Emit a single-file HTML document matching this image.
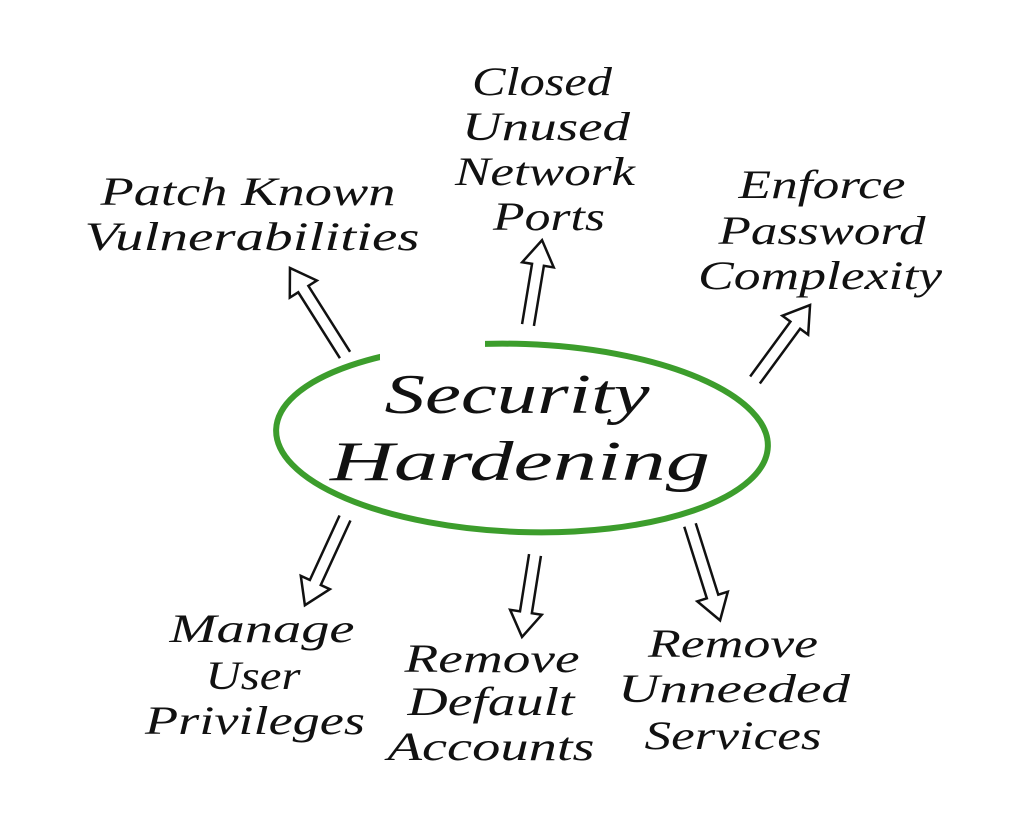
<!DOCTYPE html>
<html><head><meta charset="utf-8"><style>
html,body{margin:0;padding:0;background:#fff;}
svg{display:block;}
text{font-family:"Liberation Serif",serif;font-style:italic;fill:#111;text-anchor:middle;}
.t{font-size:40px;}
.c{font-size:56px;}
</style></head><body>
<svg width="1023" height="836" viewBox="0 0 1023 836">
<ellipse cx="522" cy="438" rx="246" ry="94" fill="none" stroke="#3c9d2c" stroke-width="6" transform="rotate(2 522 438)"/>
<rect x="380" y="330" width="105" height="30" fill="#fff"/>
<g fill="#fff" stroke="#111" stroke-width="2.5" stroke-linejoin="miter">
<path transform="translate(345,355) rotate(-122.3)" d="M0,-6 L78,-6 L78,-16 L103,0 L78,16 L78,6 L0,6"/>
<path transform="translate(528,325) rotate(-80.6)" d="M0,-6 L61,-6 L61,-16 L86,0 L61,16 L61,6 L0,6"/>
<path transform="translate(755,380) rotate(-53.7)" d="M0,-6 L68,-6 L68,-16 L93,0 L68,16 L68,6 L0,6"/>
<path transform="translate(345,518) rotate(114.7)" d="M0,-6 L71,-6 L71,-16 L96,0 L71,16 L71,6 L0,6"/>
<path transform="translate(535,555) rotate(99)" d="M0,-6 L58,-6 L58,-16 L83,0 L58,16 L58,6 L0,6"/>
<path transform="translate(690,525) rotate(72.5)" d="M0,-6 L75,-6 L75,-16 L100,0 L75,16 L75,6 L0,6"/>
</g>
<g lengthAdjust="spacingAndGlyphs">
<text class="c" x="517" y="413" textLength="265" lengthAdjust="spacingAndGlyphs">Security</text>
<text class="c" x="520" y="480" textLength="380" lengthAdjust="spacingAndGlyphs">Hardening</text>
<text class="t" x="248" y="205" textLength="295" lengthAdjust="spacingAndGlyphs">Patch Known</text>
<text class="t" x="252" y="250" textLength="335" lengthAdjust="spacingAndGlyphs">Vulnerabilities</text>
<text class="t" x="542" y="95" textLength="140" lengthAdjust="spacingAndGlyphs">Closed</text>
<text class="t" x="546" y="140" textLength="168" lengthAdjust="spacingAndGlyphs">Unused</text>
<text class="t" x="545" y="185" textLength="180" lengthAdjust="spacingAndGlyphs">Network</text>
<text class="t" x="549" y="230" textLength="112" lengthAdjust="spacingAndGlyphs">Ports</text>
<text class="t" x="822" y="198" textLength="167" lengthAdjust="spacingAndGlyphs">Enforce</text>
<text class="t" x="822" y="244" textLength="207" lengthAdjust="spacingAndGlyphs">Password</text>
<text class="t" x="820" y="289" textLength="244" lengthAdjust="spacingAndGlyphs">Complexity</text>
<text class="t" x="262" y="642" textLength="185" lengthAdjust="spacingAndGlyphs">Manage</text>
<text class="t" x="253" y="689" textLength="95" lengthAdjust="spacingAndGlyphs">User</text>
<text class="t" x="255" y="734" textLength="220" lengthAdjust="spacingAndGlyphs">Privileges</text>
<text class="t" x="492" y="672" textLength="175" lengthAdjust="spacingAndGlyphs">Remove</text>
<text class="t" x="491" y="715" textLength="167" lengthAdjust="spacingAndGlyphs">Default</text>
<text class="t" x="491" y="760" textLength="207" lengthAdjust="spacingAndGlyphs">Accounts</text>
<text class="t" x="733" y="657" textLength="170" lengthAdjust="spacingAndGlyphs">Remove</text>
<text class="t" x="734" y="702" textLength="232" lengthAdjust="spacingAndGlyphs">Unneeded</text>
<text class="t" x="733" y="749" textLength="177" lengthAdjust="spacingAndGlyphs">Services</text>
</g>
</svg>
</body></html>
